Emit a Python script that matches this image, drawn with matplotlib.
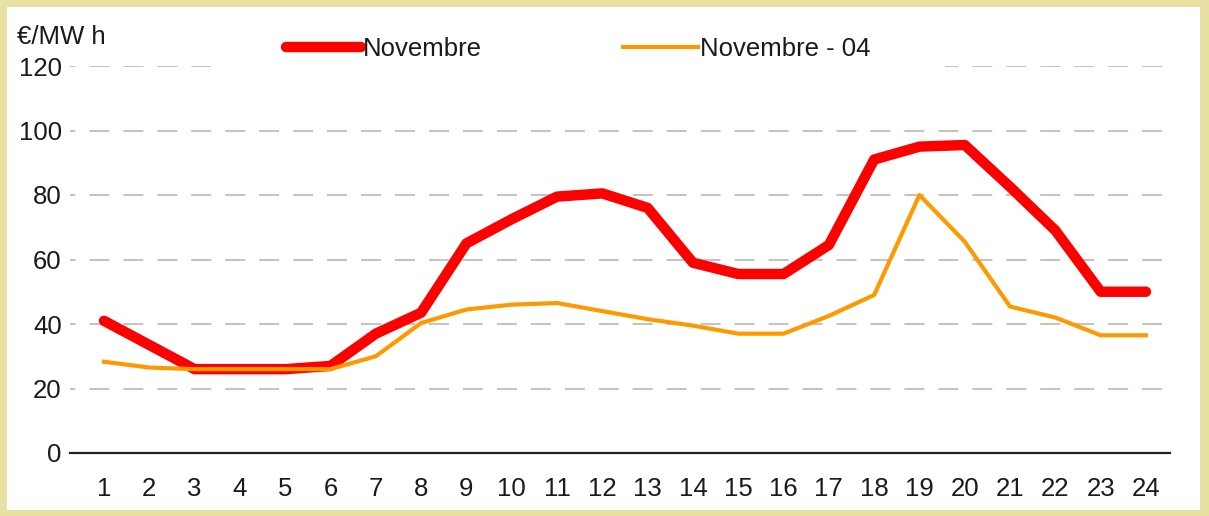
import matplotlib.pyplot as plt
from matplotlib.patches import Rectangle

hours = list(range(1, 25))
novembre = [41, 33.5, 26, 26, 26, 27, 37, 43.5, 65, 72.5, 79.5, 80.5,
            76, 59, 55.5, 55.5, 64.5, 91, 95, 95.5, 82.5, 69, 50, 50]
novembre_04 = [28.3, 26.5, 26, 26, 26, 26, 30, 40.3, 44.5, 46, 46.5, 44,
               41.5, 39.5, 37, 37, 42.5, 49, 80, 65.5, 45.4, 42, 36.5, 36.5]
y_ticks = [0, 20, 40, 60, 80, 100, 120]

plt.rcParams['font.family'] = ['Liberation Sans', 'DejaVu Sans']
txt = '#1a1a1a'
fs = 18.5


def main():
    fig = plt.figure(figsize=(12.09, 5.16), dpi=100, facecolor='#E8E2A2')
    # white panel on the yellow background
    fig.patches.append(Rectangle((7 / 1209, 6 / 516), 1193 / 1209, 503 / 516,
                                 transform=fig.transFigure, facecolor='white',
                                 edgecolor='none', zorder=-5))

    ax = fig.add_axes([70 / 1209, 1 - 453 / 516, 1100 / 1209, 387 / 516])
    ax.set_facecolor('white')

    ax.plot(hours, novembre, color='#FF0000', lw=7.5, solid_capstyle='round',
            solid_joinstyle='round', label='Novembre', zorder=3)
    ax.plot(hours, novembre_04, color='#FF9900', lw=3, solid_joinstyle='round',
            label='Novembre - 04', zorder=4)

    ax.set_ylim(0, 120)
    ax.set_xlim(0.25, 24.53)
    ax.set_yticks(y_ticks)
    ax.set_xticks(hours)
    ax.tick_params(axis='both', length=0, labelsize=fs, colors=txt)
    ax.tick_params(axis='x', pad=17)
    ax.tick_params(axis='y', pad=6)

    for s in ['top', 'right', 'left']:
        ax.spines[s].set_visible(False)
    ax.spines['bottom'].set_color('#222222')
    ax.spines['bottom'].set_linewidth(1.6)
    ax.spines['bottom'].set_zorder(5)

    ax.yaxis.grid(True, color='#C4C4C4', lw=1.5, linestyle=(7, (9.6, 6.7)))
    ax.set_axisbelow(True)

    # white block behind the legend hides part of the top gridline
    ax.add_patch(Rectangle((3.56, 117), 16.0, 6, facecolor='white',
                           edgecolor='none', clip_on=False, zorder=2))

    leg = fig.legend(loc='center left', bbox_to_anchor=(286 / 1209, 1 - 49 / 516),
                     ncol=2, frameon=False, fontsize=fs, handlelength=2.9,
                     handletextpad=0.1, columnspacing=5.5, borderpad=0,
                     borderaxespad=0)
    for t in leg.get_texts():
        t.set_color(txt)

    fig.text(17 / 1209, 1 - 37 / 516, '€/MW h', fontsize=fs, color=txt,
             va='center', ha='left')

    fig.savefig('out.png', dpi=100, facecolor=fig.get_facecolor())


if __name__ == "__main__":
    main()
